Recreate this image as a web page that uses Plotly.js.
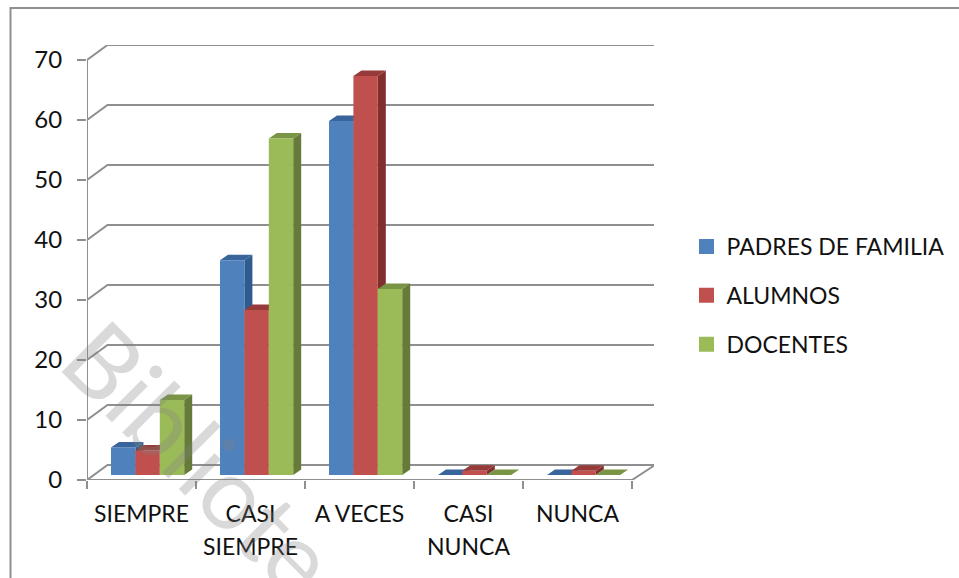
<!DOCTYPE html>
<html><head><meta charset="utf-8">
<script src="https://cdn.plot.ly/plotly-3.0.1.min.js"></script>
<style>html,body{margin:0;padding:0;background:#fff;overflow:hidden}#c{width:959px;height:578px}</style>
</head><body><div id="c"></div><script>
const categories = ["SIEMPRE", "CASI<br>SIEMPRE", "A VECES", "CASI<br>NUNCA", "NUNCA"];
const padres = [4.6, 35.8, 59, 0, 0];
const alumnos = [4.1, 27.5, 66.5, 0.7, 0.7];
const docentes = [12.5, 56.1, 31, 0, 0];
const seriesNames = ["PADRES DE FAMILIA", "ALUMNOS", "DOCENTES"];
const frontColors = ["#4F81BD", "#C0504D", "#9BBB59"];
const sideColors = ["#2F5C90", "#7F2F2D", "#667B39"];
const topColors = ["#38659B", "#963B39", "#7A9445"];
const yTicks = [0, 10, 20, 30, 40, 50, 60, 70];
const LINE = "#8F8F8F", FONT = "Lato, 'Open Sans', sans-serif";

const pxX = 109, pxY = 6;                 // pixels per category / per y unit
const xMax = 567 / pxX, yMax = 435 / pxY;
const wallEnd = 568 / pxX;
const wallDx = 20.5 / pxX, wallDy = 15 / pxY;
const floorDy = 5 / pxY, barShift = 0.056;
const barW = 24.4 / pxX, depthX = 8 / pxX, depthY = 5.5 / pxY;
const nCat = categories.length;
const centres = categories.map((_, i) => i + 0.5 + barShift);
const allSeries = [padres, alumnos, docentes];

// walls
const gx = [], gy = [];
yTicks.forEach(v => { gx.push(0, wallDx, wallEnd, null); gy.push(v, v + wallDy, v + wallDy, null); });
gx.push(0, nCat, wallEnd, null, 0, 0);
gy.push(0, 0, wallDy, null, 0, yTicks[yTicks.length - 1]);
const traces = [{x: gx, y: gy, mode: "lines", line: {color: LINE, width: 2}, hoverinfo: "skip",
                 showlegend: false, cliponaxis: false, xaxis: "x", yaxis: "y"}];

// side and top faces, computed from the values
allSeries.forEach((vals, s) => {
  const sx = [], sy = [], tx = [], ty = [];
  vals.forEach((v, i) => {
    const l = centres[i] + (s - 1.5) * barW, r = l + barW, b = floorDy, t = b + v;
    sx.push(r, r + depthX, r + depthX, r, r, null);
    sy.push(b, b + depthY, t + depthY, t, b, null);
    tx.push(l, r, r + depthX, l + depthX, l, null);
    ty.push(t, t, t + depthY, t + depthY, t, null);
  });
  [[sx, sy, sideColors[s]], [tx, ty, topColors[s]]].forEach(([x, y, c]) => traces.push({
    x, y, mode: "lines", fill: "toself", fillcolor: c, line: {width: 0, color: c},
    hoverinfo: "skip", showlegend: false, cliponaxis: false, xaxis: "x", yaxis: "y"}));
});

// fronts, in an overlaying subplot so they always cover the faces
allSeries.forEach((vals, s) => traces.push({
  type: "bar", name: seriesNames[s], x: centres, y: vals, base: floorDy,
  marker: {color: frontColors[s], line: {width: 0}}, xaxis: "x2", yaxis: "y2", showlegend: false}));

// legend keys
seriesNames.forEach((n, s) => traces.push({
  type: "bar", name: n, x: [null], y: [null], legendgroup: n, xaxis: "x", yaxis: "y",
  marker: {color: frontColors[s], line: {color: frontColors[s], width: 3}}}));

const fx = p => (p - 87) / 567, fy = p => (480 - p) / 435;
const layout = {
  width: 959, height: 578, paper_bgcolor: "#fff", plot_bgcolor: "rgba(0,0,0,0)",
  margin: {l: 87, r: 305, t: 45, b: 98, pad: 0, autoexpand: false},
  barmode: "group", bargap: 1 - 3 * barW, bargroupgap: 0,
  font: {family: FONT, color: "#111"},
  xaxis: {range: [0, xMax], tickmode: "array", tickvals: categories.map((_, i) => i + 0.5),
          ticktext: categories.map(c => c.split("<br>").map(w => `<span style="font-size:23px">${w}</span>`).join("<br>")),
          tickfont: {family: FONT, size: 25.4, color: "#111"}, ticks: "", showgrid: false, zeroline: false,
          showline: false, ticklabelstandoff: 16,
          minor: {tickmode: "array", tickvals: categories.map((_, i) => i).concat([nCat]), ticks: "outside",
                  ticklen: 8, tickwidth: 2, tickcolor: LINE, showgrid: false}},
  yaxis: {range: [0, yMax], tickmode: "array", tickvals: yTicks, ticktext: yTicks.map(String),
          tickfont: {family: FONT, size: 24, color: "#111"}, ticks: "outside", ticklen: 9, tickwidth: 2,
          tickcolor: LINE, showgrid: false, zeroline: false, showline: false, ticklabelstandoff: 10},
  xaxis2: {range: [0, xMax], overlaying: "x", visible: false, anchor: "y2"},
  yaxis2: {range: [0, yMax], overlaying: "y", visible: false, anchor: "x2"},
  legend: {x: fx(686.5), xanchor: "left", y: fy(225), yanchor: "top", xref: "paper", yref: "paper",
           bgcolor: "rgba(0,0,0,0)", font: {family: FONT, size: 23, color: "#111"},
           traceorder: "grouped", tracegroupgap: 16},
  shapes: [{type: "path", xref: "paper", yref: "paper", layer: "below",
            path: `M ${fx(10.5)} ${fy(578)} L ${fx(10.5)} ${fy(8)} L ${fx(959)} ${fy(8)}`,
            line: {color: LINE, width: 2}}],
  annotations: [{text: "Bibliote", xref: "paper", yref: "paper", x: fx(201), y: fy(456), xanchor: "center", yanchor: "middle",
                 showarrow: false, textangle: 45, font: {family: FONT, size: 100, color: "rgba(128,128,128,0.3)"}}]
};
Plotly.newPlot("c", traces, layout, {displayModeBar: false, staticPlot: true});
</script></body></html>
